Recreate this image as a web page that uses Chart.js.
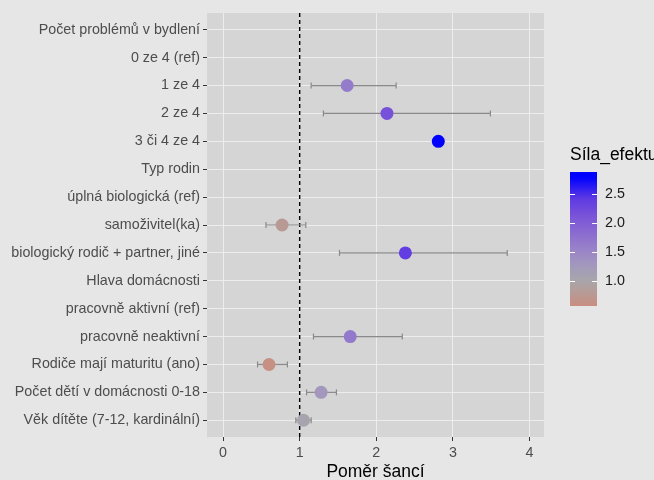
<!DOCTYPE html>
<html>
<head>
<meta charset="utf-8">
<script src="https://cdn.jsdelivr.net/npm/chart.js@4.4.0/dist/chart.umd.min.js"></script>
<style>
  html, body { margin: 0; padding: 0; background: #E6E6E6; }
  canvas { display: block; }
</style>
</head>
<body>
<canvas id="forest" width="654" height="480"></canvas>
<script>
const categories = [
  'Počet problémů v bydlení',
  '0 ze 4 (ref)',
  '1 ze 4',
  '2 ze 4',
  '3 či 4 ze 4',
  'Typ rodin',
  'úplná biologická (ref)',
  'samoživitel(ka)',
  'biologický rodič + partner, jiné',
  'Hlava domácnosti',
  'pracovně aktivní (ref)',
  'pracovně neaktivní',
  'Rodiče mají maturitu (ano)',
  'Počet dětí v domácnosti 0-18',
  'Věk dítěte (7-12, kardinální)'
];
const oddsRatio = [null, null, 1.62, 2.14, 2.81, null, null, 0.77, 2.38, null, null, 1.66, 0.60, 1.28, 1.05];
const ciLow     = [null, null, 1.15, 1.31, null, null, null, 0.56, 1.52, null, null, 1.18, 0.45, 1.09, 0.95];
const ciHigh    = [null, null, 2.26, 3.49, null, null, null, 1.08, 3.71, null, null, 2.34, 0.84, 1.48, 1.15];
const xTicks = [0, 1, 2, 3, 4];
const legendTicks = [1.0, 1.5, 2.0, 2.5];
const colourLimits = [0.57, 2.87];
const refLine = 1;

// colour scale (low salmon -> grey -> blue), stops as fraction of the limits
const colourStops = [
  [0.00, [200, 142, 128]],
  [0.19, [168, 166, 170]],
  [0.32, [162, 150, 192]],
  [0.45, [150, 125, 202]],
  [0.67, [122, 84, 216]],
  [0.80, [95, 58, 226]],
  [0.96, [0, 0, 255]],
  [1.00, [0, 0, 255]]
];
const [vMin, vMax] = colourLimits;

function colourAt(v) {
  let t = (v - vMin) / (vMax - vMin);
  t = Math.max(0, Math.min(1, t));
  for (let i = 1; i < colourStops.length; i++) {
    const [p1, c1] = colourStops[i];
    const [p0, c0] = colourStops[i - 1];
    if (t <= p1) {
      const f = (t - p0) / (p1 - p0);
      const c = c0.map((a, k) => Math.round(a + (c1[k] - a) * f));
      return `rgb(${c[0]},${c[1]},${c[2]})`;
    }
  }
  return 'rgb(0,0,255)';
}

const FONT = "'Liberation Sans', Arial, sans-serif";

const points = [];
const pointColours = [];
oddsRatio.forEach((v, i) => {
  if (v === null) return;
  points.push({ x: v, y: i + 1 });
  pointColours.push(colourAt(v));
});

const errorBars = [];
ciLow.forEach((lo, i) => {
  if (lo === null) return;
  errorBars.push({
    data: [{ x: lo, y: i + 1 }, { x: ciHigh[i], y: i + 1 }],
    showLine: true,
    borderColor: '#8A8A8A',
    borderWidth: 1.2,
    pointStyle: 'line',
    pointRotation: 90,
    pointRadius: 3,
    pointBorderColor: '#8A8A8A',
    pointBorderWidth: 1.2,
    order: 2
  });
});

const yMin = 0.4, yMax = categories.length + 0.6;

const panelBg = {
  id: 'panelBg',
  beforeDraw(chart) {
    const { ctx, chartArea: a } = chart;
    ctx.save();
    ctx.fillStyle = '#D5D5D5';
    ctx.fillRect(a.left, a.top, a.right - a.left, a.bottom - a.top);
    ctx.restore();
  }
};

const colourBar = {
  id: 'colourBar',
  afterDraw(chart) {
    const ctx = chart.ctx;
    const left = 570, w = 27, top = 172, bottom = 306;
    const yOf = v => bottom - (v - vMin) / (vMax - vMin) * (bottom - top);
    ctx.save();
    const g = ctx.createLinearGradient(0, bottom, 0, top);
    for (let k = 0; k <= 40; k++) {
      const v = vMin + (vMax - vMin) * k / 40;
      g.addColorStop(k / 40, colourAt(v));
    }
    ctx.fillStyle = g;
    ctx.fillRect(left, top, w, bottom - top);
    ctx.strokeStyle = '#FFFFFF';
    ctx.lineWidth = 1;
    ctx.font = `14.3px ${FONT}`;
    ctx.fillStyle = '#1A1A1A';
    ctx.textBaseline = 'middle';
    ctx.textAlign = 'left';
    legendTicks.forEach(v => {
      const y = Math.round(yOf(v)) + 0.5;
      ctx.beginPath();
      ctx.moveTo(left, y); ctx.lineTo(left + 5, y);
      ctx.moveTo(left + w - 5, y); ctx.lineTo(left + w, y);
      ctx.stroke();
      ctx.fillText(v.toFixed(1), left + 35, y);
    });
    ctx.font = `17.5px ${FONT}`;
    ctx.fillStyle = '#000000';
    ctx.fillText('Síla_efektu', left, 155);
    ctx.restore();
  }
};

new Chart(document.getElementById('forest'), {
  type: 'scatter',
  data: {
    datasets: [
      {
        data: points,
        backgroundColor: pointColours,
        borderWidth: 0,
        pointRadius: 6.5,
        pointHoverRadius: 6.5,
        order: 1
      },
      ...errorBars,
      {
        data: [{ x: refLine, y: yMin }, { x: refLine, y: yMax }],
        showLine: true,
        borderColor: '#000000',
        borderWidth: 1.4,
        borderDash: [4, 3],
        pointRadius: 0,
        order: 3
      }
    ]
  },
  options: {
    responsive: false,
    animation: false,
    layout: { padding: { left: 0, top: 13, right: 110, bottom: 0 } },
    plugins: { legend: { display: false }, tooltip: { enabled: false } },
    scales: {
      x: {
        type: 'linear',
        min: -0.21,
        max: 4.19,
        afterBuildTicks: s => { s.ticks = xTicks.map(v => ({ value: v })); },
        afterFit: s => { s.height = 43; },
        border: { display: false },
        grid: { color: '#EDEDED', lineWidth: 1, tickColor: '#333333', tickLength: 4 },
        ticks: { font: { family: FONT, size: 14.3 }, color: '#4D4D4D', padding: 3 },
        title: {
          display: true,
          text: 'Poměr šancí',
          font: { family: FONT, size: 17.5 },
          color: '#000000',
          padding: { top: 0, bottom: -3 }
        }
      },
      y: {
        type: 'linear',
        reverse: true,
        min: yMin,
        max: yMax,
        afterBuildTicks: s => { s.ticks = categories.map((c, i) => ({ value: i + 1 })); },
        afterFit: s => { s.width = 207; },
        border: { display: false },
        grid: { color: '#EDEDED', lineWidth: 1, tickColor: '#333333', tickLength: 4 },
        ticks: {
          autoSkip: false,
          font: { family: FONT, size: 14.3 },
          color: '#4D4D4D',
          padding: 3,
          callback: v => categories[v - 1]
        }
      }
    }
  },
  plugins: [panelBg, colourBar]
});
</script>
</body>
</html>
